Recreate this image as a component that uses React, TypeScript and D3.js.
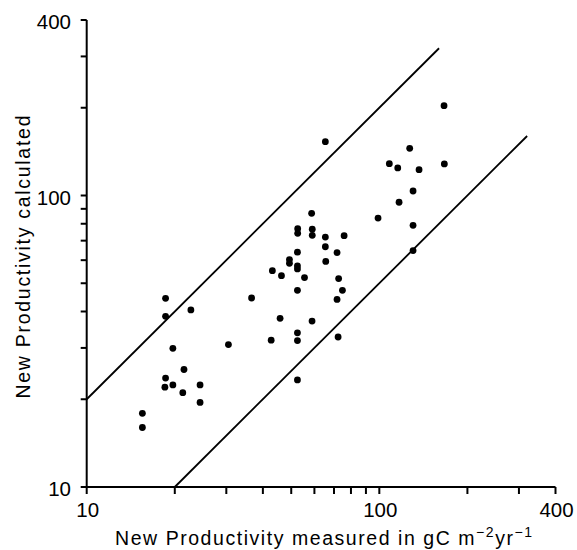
import React from "react";
import * as d3 from "d3";

const measured: number[] = [
  18.6, 18.6, 22.7, 19.7, 30.5, 36.6, 21.5, 18.6, 18.5, 19.7, 21.3, 24.4, 24.4, 15.5, 15.5,
  42.7, 45.8, 52.5, 52.5, 52.5, 58.9, 72.3, 43.1, 46.3, 55.5, 52.5, 72.6, 74.8, 71.7, 65.6,
  71.7, 52.5, 52.5, 49.3, 49.3, 52.5, 58.7, 52.6, 52.6, 59.0, 59.0, 65.4, 75.8, 65.4, 65.4,
  166.4, 127, 108.2, 115.6, 136.7, 166.8, 130.4, 116.8, 99.0, 130.4, 130.4,
];
const calculated: number[] = [
  44.4, 38.5, 40.5, 29.9, 30.8, 44.5, 25.3, 23.65, 22.0, 22.4, 21.06, 22.4, 19.5, 17.9, 16.0,
  31.9, 37.9, 33.8, 31.8, 23.3, 37.1, 32.7, 55.2, 53.1, 52.3, 47.3, 51.9, 47.3, 44.0, 59.4,
  63.7, 57.4, 56.0, 60.3, 58.5, 63.9, 86.9, 76.9, 74.2, 76.6, 73.0, 72.0, 72.8, 66.7, 153,
  203.3, 145.2, 128.6, 124.3, 122.6, 128.3, 103.6, 94.8, 83.7, 79.0, 64.7,
];

const domain: [number, number] = [10, 400];
const tickValues: number[] = [10, 20, 30, 40, 50, 60, 70, 80, 90, 100, 200, 300, 400];
const labelledTicks: number[] = [10, 100, 400];

// 1:2 and 2:1 envelope lines
const upperLine: [number, number][] = [[10, 20], [160, 320]];
const lowerLine: [number, number][] = [[20, 10], [320, 160]];

const xTitle = "New  Productivity measured in gC m";
const yTitle = "New  Productivity calculated";

export default function App() {
  const W = 577, H = 550;
  const x = d3.scaleLog().domain(domain).range([86.7, 555.5]);
  const y = d3.scaleLog().domain(domain).range([487, 20]);
  const line = d3.line<[number, number]>().x(d => x(d[0])).y(d => y(d[1]));
  const font = "'Liberation Sans', Arial, Helvetica, sans-serif";
  const pts = measured.map((m, i) => [m, calculated[i]] as [number, number]);
  const x0 = x(10), y0 = y(10);

  return (
    <svg width={W} height={H} style={{ position: "absolute", left: 0, top: 0, background: "#fff" }} fontFamily={font}>
      <rect x={0} y={0} width={W} height={H} fill="#fff" />
      {/* axes */}
      <line x1={x0} x2={x0} y1={y(400)} y2={y0} stroke="#000" strokeWidth={2} />
      <line x1={x0} x2={x(400)} y1={y0} y2={y0} stroke="#000" strokeWidth={2} />
      {tickValues.map(v => (
        <line key={"yt" + v} x1={x0 - 6} x2={x0} y1={y(v)} y2={y(v)} stroke="#000" strokeWidth={2} />
      ))}
      {tickValues.map(v => (
        <line key={"xt" + v} x1={x(v)} x2={x(v)} y1={y0} y2={y0 + 7} stroke="#000" strokeWidth={2} />
      ))}
      {labelledTicks.map(v => (
        <text key={"yl" + v} x={71} y={y(v) + 9} textAnchor="end" fontSize={20.5} fill="#000">{v}</text>
      ))}
      {labelledTicks.map(v => (
        <text key={"xl" + v} x={x(v) + 1} y={517} textAnchor="middle" fontSize={20.5} fill="#000">{v}</text>
      ))}
      {/* envelope lines */}
      <path d={line(upperLine) || ""} fill="none" stroke="#000" strokeWidth={1.8} />
      <path d={line(lowerLine) || ""} fill="none" stroke="#000" strokeWidth={1.8} />
      {/* points */}
      {pts.map((p, i) => (
        <circle key={i} cx={x(p[0])} cy={y(p[1])} r={3.4} fill="#000" />
      ))}
      {/* titles */}
      <text x={115} y={545} fontSize={19.5} letterSpacing={1.55} fill="#000">
        {xTitle}
        <tspan fontSize={14} dy={-8}>−2</tspan>
        <tspan fontSize={19.5} dy={8}>yr</tspan>
        <tspan fontSize={14} dy={-8}>−1</tspan>
      </text>
      <text transform={`translate(30,257) rotate(-90)`} textAnchor="middle" fontSize={19.5}
        textLength={283} lengthAdjust="spacing" fill="#000">
        {yTitle}
      </text>
    </svg>
  );
}
